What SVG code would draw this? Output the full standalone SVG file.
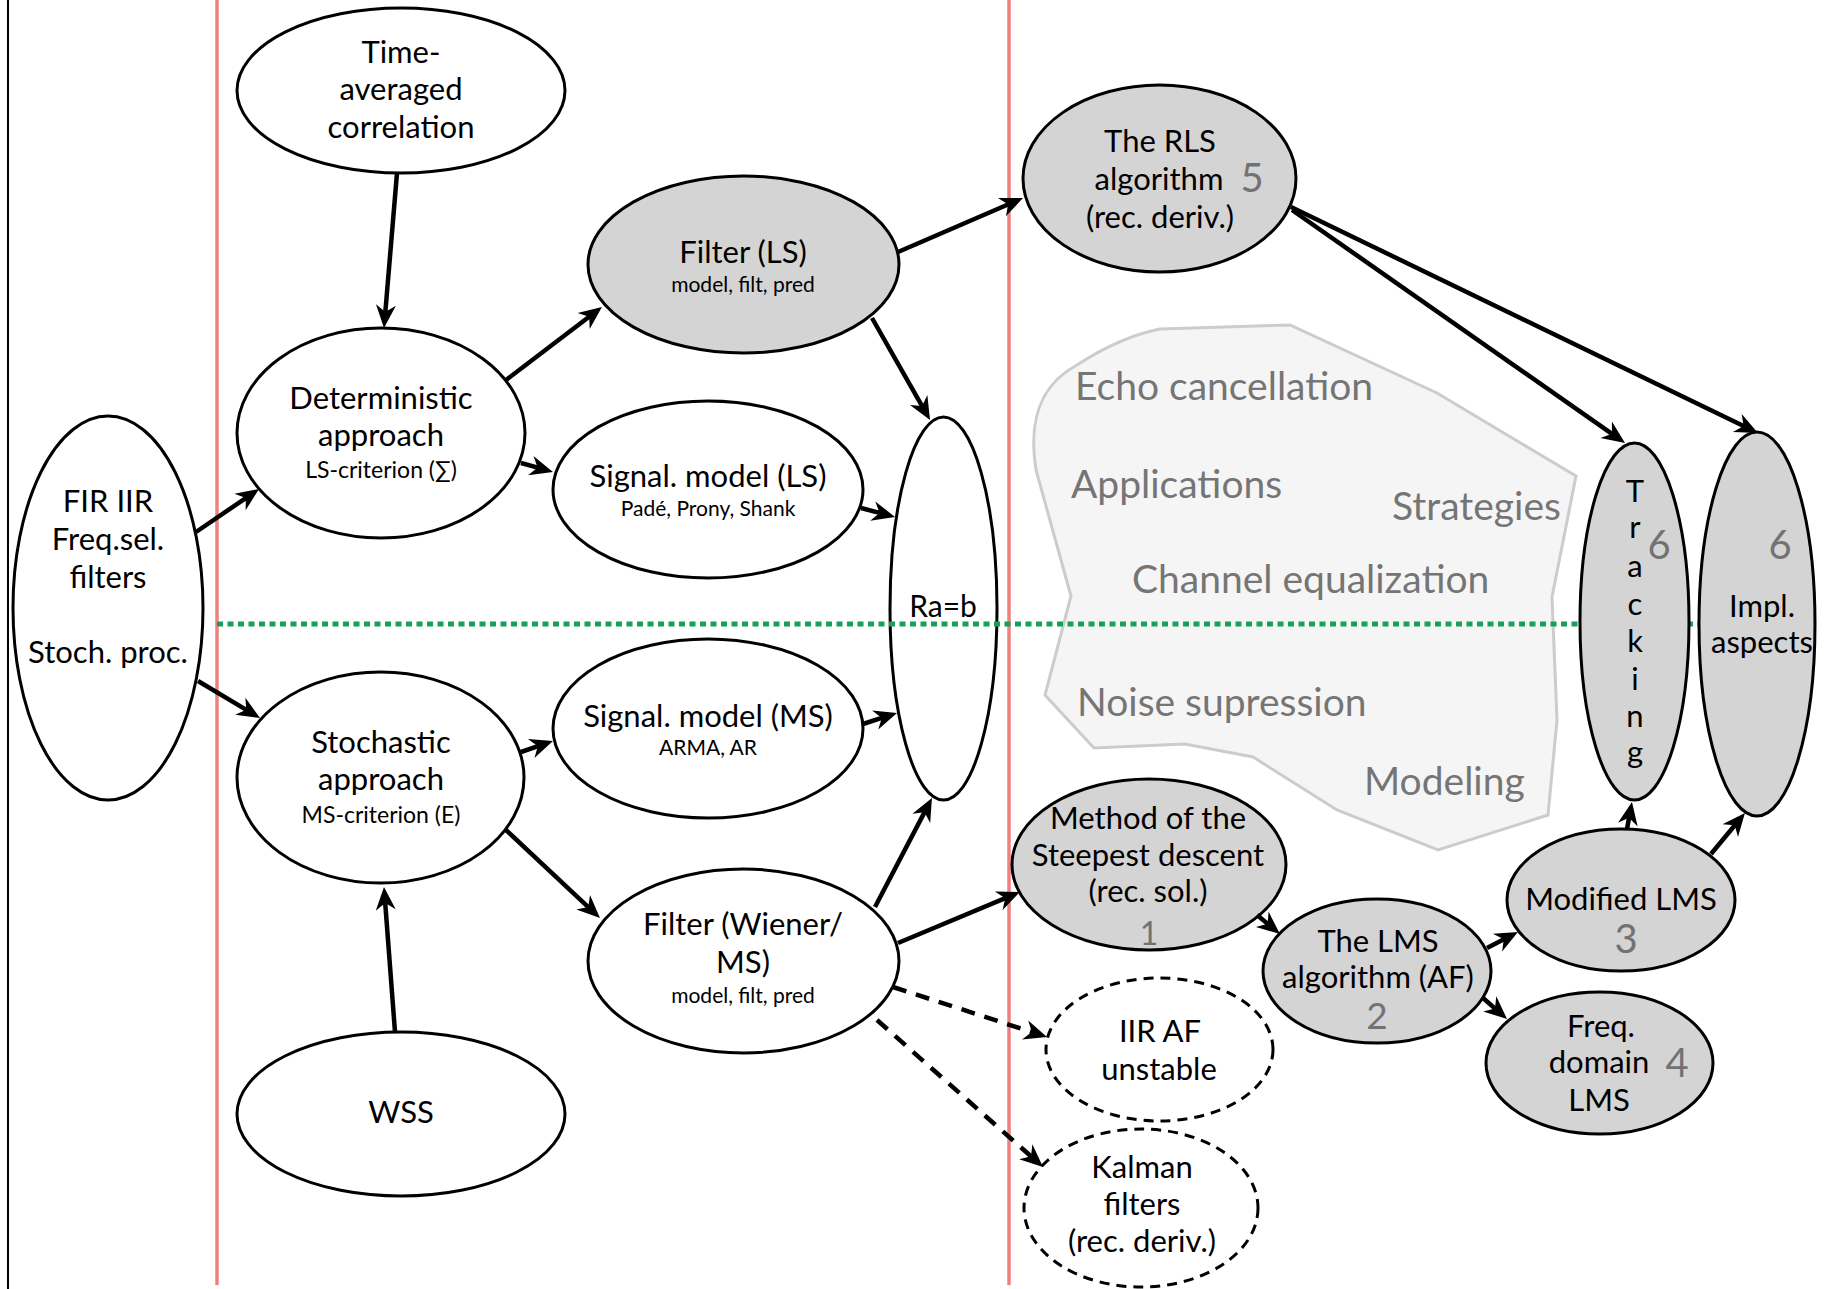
<svg xmlns="http://www.w3.org/2000/svg" width="1830" height="1289" viewBox="0 0 1830 1289">
<defs>
<style>
.nd{stroke:#000;stroke-width:3}
.w{fill:#fff}
.g{fill:#d4d4d4}
.ds{fill:#fff;stroke-dasharray:10 7}
text{font-family:Lato,"Liberation Sans",sans-serif;text-anchor:middle;fill:#000}
.t{font-size:31px}
.s{font-size:21px}
.c{font-size:23px}
.num{font-size:40px;fill:#727272}
.bt{font-size:39px;fill:#757575;text-anchor:start}
.cn{stroke:#000;stroke-width:4.5;fill:none;marker-end:url(#ah)}
.dash{stroke-dasharray:14 10}
</style>
<marker id="ah" viewBox="-24 -12 26 24" markerWidth="26" markerHeight="24" refX="-12" refY="0" orient="auto" markerUnits="userSpaceOnUse"><path d="M0,0 L-23,-10 L-16,0 L-23,10 Z" fill="#000"/></marker>
</defs>
<rect width="1830" height="1289" fill="#fff"/>
<g id="guides">
<line x1="8" y1="0" x2="8" y2="1289" stroke="#000" stroke-width="2"/>
<line x1="217" y1="0" x2="217" y2="1285" stroke="#f08080" stroke-width="3.5"/>
<line x1="1009" y1="0" x2="1009" y2="1285" stroke="#f08080" stroke-width="3.5"/>
</g>
<g id="applications-region">
<path d="M1160,329 L1290,325 L1437,393 L1576,476 L1552,597 L1557,720 L1548,815 L1438,850 L1337,810 L1253,757 L1185,744 L1094,748 L1045,695 L1071,596 L1036,470 C1028,420 1040,385 1077,365 C1100,350 1130,335 1160,329 Z" fill="#f5f5f5" stroke="#cccccc" stroke-width="3"/>
<text class="bt" x="1075" y="400">Echo cancellation</text>
<text class="bt" x="1071" y="498">Applications</text>
<text class="bt" x="1392" y="520">Strategies</text>
<text class="bt" x="1132" y="593">Channel equalization</text>
<text class="bt" x="1077" y="716">Noise supression</text>
<text class="bt" x="1364" y="795">Modeling</text>
</g>
<g id="n-time">
<ellipse class="nd w" cx="401" cy="90.5" rx="164" ry="82.5"/>
<text class="t" x="401" y="63">Time-</text>
<text class="t" x="401" y="100">averaged</text>
<text class="t" x="401" y="138">correlation</text>
</g>
<g id="n-fir">
<ellipse class="nd w" cx="108" cy="608" rx="95" ry="192"/>
<text class="t" x="108" y="512">FIR IIR</text>
<text class="t" x="108" y="550">Freq.sel.</text>
<text class="t" x="108" y="588">filters</text>
<text class="t" x="108" y="663">Stoch. proc.</text>
</g>
<g id="n-det">
<ellipse class="nd w" cx="381" cy="433" rx="144" ry="105"/>
<text class="t" x="381" y="409">Deterministic</text>
<text class="t" x="381" y="446">approach</text>
<text class="c" x="381" y="478">LS-criterion (∑)</text>
</g>
<g id="n-stoch">
<ellipse class="nd w" cx="380.5" cy="777.5" rx="143.5" ry="105.5"/>
<text class="t" x="381" y="753">Stochastic</text>
<text class="t" x="381" y="790">approach</text>
<text class="c" x="381" y="823">MS-criterion (E)</text>
</g>
<g id="n-wss">
<ellipse class="nd w" cx="401" cy="1114" rx="164" ry="82"/>
<text class="t" x="401" y="1123">WSS</text>
</g>
<g id="n-filterls">
<ellipse class="nd g" cx="743.5" cy="264.5" rx="155.5" ry="88.5"/>
<text class="t" x="743" y="263">Filter (LS)</text>
<text class="s" x="743" y="292">model, filt, pred</text>
</g>
<g id="n-sigls">
<ellipse class="nd w" cx="708" cy="489.5" rx="155" ry="88.5"/>
<text class="t" x="708" y="487">Signal. model (LS)</text>
<text class="s" x="708" y="516">Padé, Prony, Shank</text>
</g>
<g id="n-sigms">
<ellipse class="nd w" cx="708" cy="728.5" rx="155" ry="89.5"/>
<text class="t" x="708" y="727">Signal. model (MS)</text>
<text class="s" x="708" y="755">ARMA, AR</text>
</g>
<g id="n-filterw">
<ellipse class="nd w" cx="743.5" cy="961" rx="155.5" ry="92"/>
<text class="t" x="743" y="935">Filter (Wiener/</text>
<text class="t" x="743" y="973">MS)</text>
<text class="s" x="743" y="1003">model, filt, pred</text>
</g>
<g id="n-rab">
<ellipse class="nd w" cx="943.5" cy="608.5" rx="53.5" ry="191.5"/>
<text x="943" y="617" style="font-size:30px">Ra=b</text>
</g>
<g id="n-rls">
<ellipse class="nd g" cx="1159.5" cy="178.5" rx="136.5" ry="93.5"/>
<text class="t" x="1160" y="152">The RLS</text>
<text class="t" x="1159" y="190">algorithm</text>
<text class="t" x="1160" y="228">(rec. deriv.)</text>
<text class="num" x="1252" y="192">5</text>
</g>
<g id="n-steepest">
<ellipse class="nd g" cx="1149" cy="864.5" rx="137" ry="85.5"/>
<text class="t" x="1148" y="829">Method of the</text>
<text class="t" x="1148" y="866">Steepest descent</text>
<text class="t" x="1148" y="902">(rec. sol.)</text>
<text class="num" x="1149" y="945" style="font-size:32px">1</text>
</g>
<g id="n-lms">
<ellipse class="nd g" cx="1377" cy="971" rx="114" ry="72"/>
<text class="t" x="1378" y="952">The LMS</text>
<text class="t" x="1378" y="988">algorithm (AF)</text>
<text class="num" x="1377" y="1029" style="font-size:37px">2</text>
</g>
<g id="n-iir">
<ellipse class="nd ds" cx="1159.5" cy="1049.5" rx="113.5" ry="71.5"/>
<text class="t" x="1160" y="1042">IIR AF</text>
<text class="t" x="1159" y="1080">unstable</text>
</g>
<g id="n-kalman">
<ellipse class="nd ds" cx="1141" cy="1208" rx="117" ry="79"/>
<text class="t" x="1142" y="1178">Kalman</text>
<text class="t" x="1142" y="1215">filters</text>
<text class="t" x="1142" y="1252">(rec. deriv.)</text>
</g>
<g id="n-modlms">
<ellipse class="nd g" cx="1621" cy="900" rx="114" ry="71"/>
<text class="t" x="1621" y="910">Modified LMS</text>
<text class="num" x="1626" y="953">3</text>
</g>
<g id="n-freq">
<ellipse class="nd g" cx="1599.5" cy="1063" rx="113.5" ry="71"/>
<text class="t" x="1601" y="1037">Freq.</text>
<text class="t" x="1599" y="1073">domain</text>
<text class="t" x="1599" y="1111">LMS</text>
<text class="num" x="1677" y="1077">4</text>
</g>
<g id="divider">
<line x1="217" y1="624" x2="1700" y2="624" stroke="#16a05a" stroke-width="5" stroke-dasharray="6 4.5"/>
</g>
<g id="n-tracking">
<ellipse class="nd g" cx="1634.5" cy="621.5" rx="54.5" ry="178.5"/>
<text class="t"><tspan x="1635" y="502">T</tspan><tspan x="1635" y="538">r</tspan><tspan x="1635" y="577">a</tspan><tspan x="1635" y="615">c</tspan><tspan x="1635" y="652">k</tspan><tspan x="1635" y="690">i</tspan><tspan x="1635" y="727">n</tspan><tspan x="1635" y="763">g</tspan></text>
<text class="num" x="1659" y="559">6</text>
</g>
<g id="n-impl">
<ellipse class="nd g" cx="1757" cy="624" rx="58" ry="192"/>
<text class="num" x="1780" y="559">6</text>
<text class="t" x="1762" y="617">Impl.</text>
<text class="t" x="1762" y="653">aspects</text>
</g>
<g id="connectors">
<path class="cn" d="M397,173 L385,316"/>
<path class="cn" d="M196,532 L249.1,495.8"/>
<path class="cn" d="M198,681 L249.7,711.9"/>
<path class="cn" d="M395,1032 L384.9,899"/>
<path class="cn" d="M506,380 L592.4,314.3"/>
<path class="cn" d="M521,463 L541.4,468.7"/>
<path class="cn" d="M521,752 L541.6,744.9"/>
<path class="cn" d="M506,830 L591.2,909.8"/>
<path class="cn" d="M872,318 L924.1,409.6"/>
<path class="cn" d="M861,508 L883.4,513.9"/>
<path class="cn" d="M863,724 L885.6,716.7"/>
<path class="cn" d="M875,907 L926.4,808.6"/>
<path class="cn" d="M898,252 L1012,202.8"/>
<path class="cn" d="M898,943 L1008.9,896.6"/>
<path class="cn dash" d="M893,987 L1035.6,1033.3"/>
<path class="cn dash" d="M877,1020 L1034,1159"/>
<path class="cn" d="M1292,210 L1615.2,436.1"/>
<path class="cn" d="M1291,207 L1747.2,427.8"/>
<path class="cn" d="M1257,915 L1270.7,926.3"/>
<path class="cn" d="M1487,948 L1507.3,937.5"/>
<path class="cn" d="M1483,998 L1498,1011.1"/>
<path class="cn" d="M1627,829 L1629.8,813.8"/>
<path class="cn" d="M1711,854 L1737.3,822.2"/>
</g>
</svg>
